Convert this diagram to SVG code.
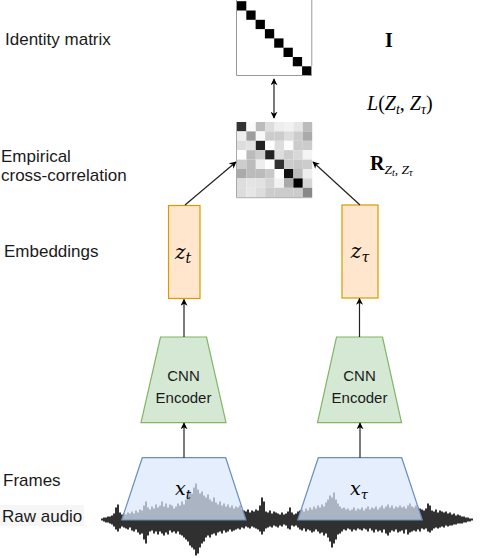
<svg xmlns="http://www.w3.org/2000/svg" width="480" height="558" viewBox="0 0 480 558">
<style>
.lbl{font-family:"Liberation Sans",Arial,sans-serif;font-size:17px;fill:#1a1a1a}
.cnn{font-family:"Liberation Sans",Arial,sans-serif;font-size:15px;fill:#1a1a1a;text-anchor:middle}
.m{font-family:"Liberation Serif","Times New Roman",serif;fill:#000}
.v{font-family:"DejaVu Serif","Liberation Serif",serif;font-style:italic;fill:#000}
.it{font-style:italic}
.conn{stroke:#222;stroke-width:1.2;fill:none}
.emb{fill:#ffe6cc;stroke:#d79b00;stroke-width:1.2}
.enc{fill:#d5e8d4;stroke:#82b366;stroke-width:1.2}
.frm{fill:#dae8fc;fill-opacity:0.72;stroke:#6c8ebf;stroke-width:1.2}
</style>
<defs>
<marker id="ah" viewBox="0 0 10 10" refX="9" refY="5" markerWidth="7" markerHeight="7" orient="auto-start-reverse" markerUnits="userSpaceOnUse">
<path d="M0,0 L10,5 L0,10 L3,5 z" fill="#000"/>
</marker>
</defs>

<g id="labels">
<text class="lbl" x="5" y="45">Identity matrix</text>
<text class="lbl" x="1" y="162">Empirical</text>
<text class="lbl" x="1" y="181">cross-correlation</text>
<text class="lbl" x="4" y="257">Embeddings</text>
<text class="lbl" x="3" y="486">Frames</text>
<rect x="0" y="505" width="84" height="21" fill="#f6f6f6"/>
<text class="lbl" x="2" y="522">Raw audio</text>
</g>

<g id="identity-matrix">
<rect x="237" y="1" width="74.6" height="74.4" fill="#fff"/>
<g fill="#000">
<rect x="237" y="1.2" width="9.3" height="9.3"/>
<rect x="246.3" y="10.5" width="9.3" height="9.3"/>
<rect x="255.6" y="19.8" width="9.3" height="9.3"/>
<rect x="264.9" y="29.1" width="9.3" height="9.3"/>
<rect x="274.2" y="38.4" width="9.3" height="9.3"/>
<rect x="283.5" y="47.7" width="9.3" height="9.3"/>
<rect x="292.8" y="57" width="9.3" height="9.3"/>
<rect x="302.1" y="66.3" width="9.3" height="9.3"/>
</g>
<path d="M236.5 0V75.5H311.8M311.8 0V66" stroke="#999" stroke-width="1" fill="none"/>
</g>

<g id="math-labels">
<text class="m" x="389" y="47" font-size="20" font-weight="bold" text-anchor="middle">I</text>
<text class="m" x="367" y="110" font-size="20"><tspan class="it">L</tspan>(<tspan class="it">Z</tspan><tspan class="it" font-size="14" dy="4">t</tspan><tspan dy="-4">, </tspan><tspan class="it">Z</tspan><tspan class="it" font-size="14" dy="4">τ</tspan><tspan dy="-4">)</tspan></text>
<text class="m" x="370" y="170" font-size="20"><tspan font-weight="bold">R</tspan><tspan class="it" font-size="13.5" dy="4">Z</tspan><tspan class="it" font-size="10" dy="2">t</tspan><tspan font-size="13.5" dy="-2">, </tspan><tspan class="it" font-size="13.5">Z</tspan><tspan class="it" font-size="10" dy="2">τ</tspan></text>
</g>

<g id="cross-correlation">
<rect x="237" y="122" width="9.4" height="9.4" fill="#333"/><rect x="246.4" y="122" width="9.4" height="9.4" fill="#fbfbfb"/><rect x="255.8" y="122" width="9.4" height="9.4" fill="#bbb"/><rect x="265.2" y="122" width="9.4" height="9.4" fill="#ddd"/><rect x="274.6" y="122" width="9.4" height="9.4" fill="#eee"/><rect x="284" y="122" width="9.4" height="9.4" fill="#f2f2f2"/><rect x="293.4" y="122" width="9.4" height="9.4" fill="#e6e6e6"/><rect x="302.8" y="122" width="9.4" height="9.4" fill="#bbb"/>
<rect x="237" y="131.4" width="9.4" height="9.4" fill="#eee"/><rect x="246.4" y="131.4" width="9.4" height="9.4" fill="#9d9d9d"/><rect x="255.8" y="131.4" width="9.4" height="9.4" fill="#f8f8f8"/><rect x="265.2" y="131.4" width="9.4" height="9.4" fill="#ccc"/><rect x="274.6" y="131.4" width="9.4" height="9.4" fill="#ccc"/><rect x="284" y="131.4" width="9.4" height="9.4" fill="#ddd"/><rect x="293.4" y="131.4" width="9.4" height="9.4" fill="#ccc"/><rect x="302.8" y="131.4" width="9.4" height="9.4" fill="#aaa"/>
<rect x="237" y="140.8" width="9.4" height="9.4" fill="#ddd"/><rect x="246.4" y="140.8" width="9.4" height="9.4" fill="#e2e2e2"/><rect x="255.8" y="140.8" width="9.4" height="9.4" fill="#222"/><rect x="265.2" y="140.8" width="9.4" height="9.4" fill="#fff"/><rect x="274.6" y="140.8" width="9.4" height="9.4" fill="#ddd"/><rect x="284" y="140.8" width="9.4" height="9.4" fill="#fcfcfc"/><rect x="293.4" y="140.8" width="9.4" height="9.4" fill="#ccc"/><rect x="302.8" y="140.8" width="9.4" height="9.4" fill="#ccc"/>
<rect x="237" y="150.2" width="9.4" height="9.4" fill="#fff"/><rect x="246.4" y="150.2" width="9.4" height="9.4" fill="#bbb"/><rect x="255.8" y="150.2" width="9.4" height="9.4" fill="#ccc"/><rect x="265.2" y="150.2" width="9.4" height="9.4" fill="#222"/><rect x="274.6" y="150.2" width="9.4" height="9.4" fill="#ddd"/><rect x="284" y="150.2" width="9.4" height="9.4" fill="#ccc"/><rect x="293.4" y="150.2" width="9.4" height="9.4" fill="#d8d8d8"/><rect x="302.8" y="150.2" width="9.4" height="9.4" fill="#f4f4f4"/>
<rect x="237" y="159.6" width="9.4" height="9.4" fill="#ccc"/><rect x="246.4" y="159.6" width="9.4" height="9.4" fill="#bbb"/><rect x="255.8" y="159.6" width="9.4" height="9.4" fill="#eee"/><rect x="265.2" y="159.6" width="9.4" height="9.4" fill="#fff"/><rect x="274.6" y="159.6" width="9.4" height="9.4" fill="#333"/><rect x="284" y="159.6" width="9.4" height="9.4" fill="#ccc"/><rect x="293.4" y="159.6" width="9.4" height="9.4" fill="#c8c8c8"/><rect x="302.8" y="159.6" width="9.4" height="9.4" fill="#ccc"/>
<rect x="237" y="169" width="9.4" height="9.4" fill="#aaa"/><rect x="246.4" y="169" width="9.4" height="9.4" fill="#bbb"/><rect x="255.8" y="169" width="9.4" height="9.4" fill="#bbb"/><rect x="265.2" y="169" width="9.4" height="9.4" fill="#c8c8c8"/><rect x="274.6" y="169" width="9.4" height="9.4" fill="#fff"/><rect x="284" y="169" width="9.4" height="9.4" fill="#111"/><rect x="293.4" y="169" width="9.4" height="9.4" fill="#bbb"/><rect x="302.8" y="169" width="9.4" height="9.4" fill="#eee"/>
<rect x="237" y="178.4" width="9.4" height="9.4" fill="#ddd"/><rect x="246.4" y="178.4" width="9.4" height="9.4" fill="#e4e4e4"/><rect x="255.8" y="178.4" width="9.4" height="9.4" fill="#e2e2e2"/><rect x="265.2" y="178.4" width="9.4" height="9.4" fill="#d4d4d4"/><rect x="274.6" y="178.4" width="9.4" height="9.4" fill="#f2f2f2"/><rect x="284" y="178.4" width="9.4" height="9.4" fill="#aaa"/><rect x="293.4" y="178.4" width="9.4" height="9.4" fill="#000"/><rect x="302.8" y="178.4" width="9.4" height="9.4" fill="#d6d6d6"/>
<rect x="237" y="187.8" width="9.4" height="9.4" fill="#ddd"/><rect x="246.4" y="187.8" width="9.4" height="9.4" fill="#e6e6e6"/><rect x="255.8" y="187.8" width="9.4" height="9.4" fill="#ddd"/><rect x="265.2" y="187.8" width="9.4" height="9.4" fill="#ccc"/><rect x="274.6" y="187.8" width="9.4" height="9.4" fill="#ccc"/><rect x="284" y="187.8" width="9.4" height="9.4" fill="#ccc"/><rect x="293.4" y="187.8" width="9.4" height="9.4" fill="#ccc"/><rect x="302.8" y="187.8" width="9.4" height="9.4" fill="#888"/>
<path d="M236.5 122V197.7H312.2" stroke="#aaa" stroke-width="1" fill="none"/>
</g>

<g id="waveform">
<path transform="translate(0,519.5)" stroke="#1a1a1a" stroke-width="1.8" fill="none" d="M102 -1V1M104 -2V2M106 -2V3M108 -3V3M110 -3V4M112 -4V5M114 -6V7M116 -12V10M118 -15V12M120 -7V9M122 -5V7M124 -6V8M126 -5V9M128 -7V10M130 -6V8M132 -8V11M134 -6V12M136 -9V10M138 -7V13M140 -10V15M142 -9V14M144 -14V20M146 -18V24M148 -12V16M150 -10V12M152 -13V11M154 -11V14M156 -15V12M158 -12V15M160 -14V12M162 -18V14M164 -13V16M166 -16V13M168 -12V15M170 -15V11M172 -14V13M174 -11V12M176 -13V14M178 -16V12M180 -14V15M182 -18V16M184 -15V18M186 -20V20M188 -24V22M190 -28V26M192 -26V28M194 -32V30M196 -36V36M198 -30V34M200 -26V28M202 -28V24M204 -24V22M206 -22V18M208 -25V16M210 -20V18M212 -18V15M214 -22V14M216 -17V16M218 -15V13M220 -18V12M222 -14V14M224 -16V11M226 -13V13M228 -15V12M230 -12V10M232 -14V12M234 -11V11M236 -13V10M238 -12V9M240 -14V10M242 -10V8M244 -9V9M246 -8V7M248 -10V8M250 -7V9M252 -9V7M254 -8V8M256 -10V9M258 -9V10M260 -14V12M262 -22V15M264 -18V12M266 -8V9M268 -7V8M270 -9V7M272 -6V8M274 -8V6M276 -7V7M278 -6V8M280 -5V6M282 -7V7M284 -5V5M286 -6V6M288 -8V9M290 -12V10M292 -7V6M294 -5V7M296 -6V6M298 -8V8M300 -9V10M302 -10V11M304 -8V9M306 -11V12M308 -9V10M310 -12V11M312 -10V13M314 -13V12M316 -11V10M318 -14V12M320 -12V14M322 -15V13M324 -13V16M326 -17V14M328 -20V18M330 -24V22M332 -22V28M334 -27V24M336 -20V20M338 -16V15M340 -13V14M342 -11V12M344 -12V10M346 -10V11M348 -11V9M350 -9V10M352 -10V12M354 -12V10M356 -9V11M358 -11V9M360 -10V10M362 -12V11M364 -9V9M366 -11V10M368 -13V12M370 -10V9M372 -12V11M374 -11V13M376 -13V10M378 -10V12M380 -12V11M382 -14V13M384 -11V10M386 -13V14M388 -15V16M390 -12V13M392 -14V11M394 -11V12M396 -13V10M398 -12V13M400 -14V12M402 -12V11M404 -13V14M406 -11V10M408 -14V15M410 -16V13M412 -13V12M414 -12V11M416 -14V12M418 -12V10M420 -11V12M422 -10V9M424 -9V10M426 -11V9M428 -16V12M430 -14V13M432 -9V11M434 -8V9M436 -10V8M438 -7V9M440 -9V8M442 -8V7M444 -7V8M446 -8V6M448 -6V7M450 -7V6M452 -5V6M454 -6V5M456 -4V5M458 -5V4M460 -4V4M462 -3V4M464 -3V3M466 -2V3M468 -2V2M470 -1V2M472 -1V1"/>
</g>

<g id="frame-t">
<path class="frm" d="M142.3 457.7H225.7L246 520H121.7Z"/>
<text class="v" x="183" y="495" font-size="19" text-anchor="middle">x<tspan font-size="13" dy="4">t</tspan></text>
</g>
<g id="frame-tau">
<path class="frm" d="M318.3 457.7H401.7L422.3 520H297.7Z"/>
<text class="v" x="359" y="495" font-size="19" text-anchor="middle">x<tspan font-size="13" dy="4">τ</tspan></text>
</g>

<g id="encoder-t">
<path class="enc" d="M160.5 337H206.5L226 422.7H141Z"/>
<text class="cnn" x="183.5" y="381">CNN</text>
<text class="cnn" x="183.5" y="403">Encoder</text>
</g>
<g id="encoder-tau">
<path class="enc" d="M336.5 337H382.5L401.5 422.7H317.5Z"/>
<text class="cnn" x="359.5" y="381">CNN</text>
<text class="cnn" x="359.5" y="403">Encoder</text>
</g>

<g id="embedding-t">
<rect class="emb" x="168.5" y="205.5" width="31.5" height="93"/>
<text class="v" x="183" y="259" font-size="20" text-anchor="middle">z<tspan font-size="14" dy="4">t</tspan></text>
</g>
<g id="embedding-tau">
<rect class="emb" x="342" y="205" width="36" height="93"/>
<text class="v" x="360" y="258" font-size="20" text-anchor="middle">z<tspan font-size="14" dy="4">τ</tspan></text>
</g>

<g id="connectors">
<line class="conn" x1="274" y1="79" x2="274" y2="118" marker-start="url(#ah)" marker-end="url(#ah)"/>
<line class="conn" x1="185" y1="205" x2="236" y2="162" marker-end="url(#ah)"/>
<line class="conn" x1="360" y1="205" x2="313" y2="162" marker-end="url(#ah)"/>
<line class="conn" x1="184" y1="337" x2="184" y2="299.5" marker-end="url(#ah)"/>
<line class="conn" x1="359.5" y1="337" x2="359.5" y2="298.5" marker-end="url(#ah)"/>
<line class="conn" x1="184" y1="457.7" x2="184" y2="423" marker-end="url(#ah)"/>
<line class="conn" x1="360" y1="457.7" x2="360" y2="423" marker-end="url(#ah)"/>
</g>
</svg>
